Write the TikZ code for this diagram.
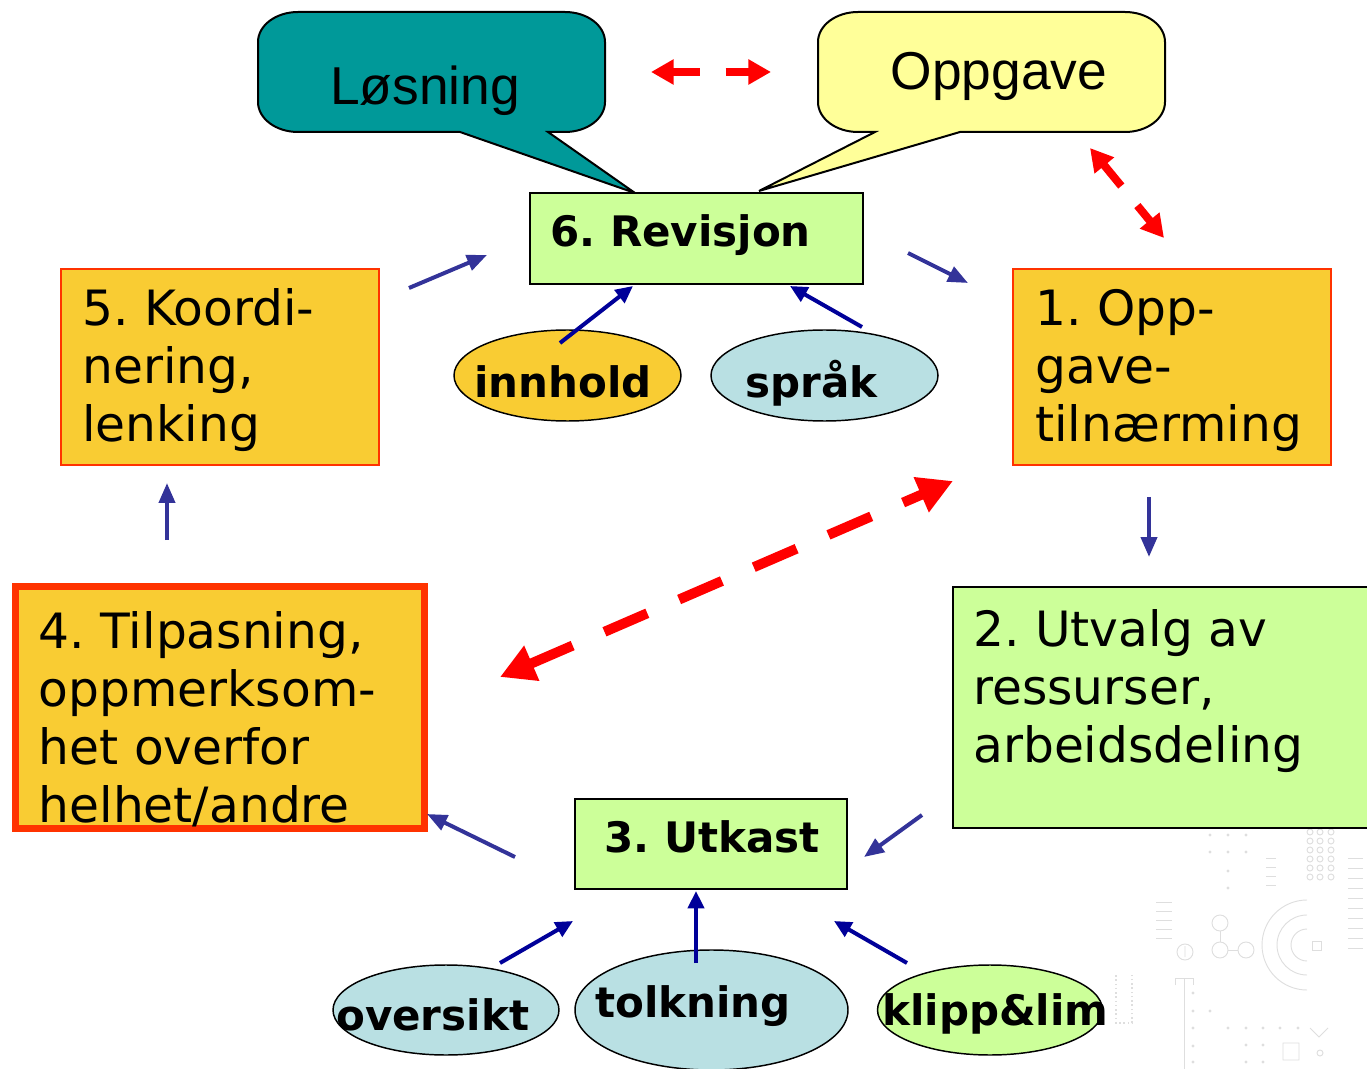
\documentclass[tikz,border=0pt]{standalone}
\usepackage{fontspec}
\setmainfont{DejaVu Sans}
\newfontfamily\bubblefont{Liberation Sans}
\usetikzlibrary{arrows.meta, positioning, shapes.geometric}
\frenchspacing

\definecolor{tealbubble}{HTML}{009999}
\definecolor{yellowbubble}{HTML}{FFFF99}
\definecolor{stepgreen}{HTML}{CCFF99}
\definecolor{stepgold}{HTML}{F9CC33}
\definecolor{stepred}{HTML}{FF3300}
\definecolor{toolcyan}{HTML}{B9E0E3}
\definecolor{flowblue}{HTML}{333399}
\definecolor{feedblue}{HTML}{000099}

\begin{document}
\begin{tikzpicture}[x=0.75pt, y=-0.75pt,
    greenstep/.style={rectangle, draw=black, line width=1.5pt, fill=stepgreen, inner sep=0pt, outer sep=0pt},
    goldstep/.style={rectangle, draw=stepred, line width=1.2pt, fill=stepgold, inner sep=0pt, outer sep=0pt},
    steptxt/.style={anchor=base west, inner sep=0pt, align=left, font=\fontsize{36.5}{43.5}\selectfont},
    tooltxt/.style={inner sep=0pt, font=\bfseries\fontsize{31.5}{37}\selectfont},
    tool/.style={ellipse, draw=black, line width=1.1pt, inner sep=0pt, outer sep=0pt},
    bubble/.style={draw=black, line width=1.5pt},
    bubbletxt/.style={anchor=base, inner sep=0pt, font=\bubblefont\fontsize{40}{48}\selectfont},
    flowarr/.style={flowblue, line width=3pt, -{Triangle[length=15pt, width=12pt]}},
    feedarr/.style={feedblue, line width=3pt, -{Triangle[length=13pt, width=12pt]}},
    linkarr/.style={red, line width=6pt, dash pattern=on 21pt off 19pt,
      {Triangle[length=17pt, width=18pt]}-{Triangle[length=17pt, width=18pt]}},
    bigarr/.style={red, line width=7.5pt, dash pattern=on 35pt off 26pt,
      {Triangle[length=26pt, width=27pt]}-{Triangle[length=26pt, width=27pt]}}]
\useasboundingbox (0,0) rectangle (1367,1069);

% faint template pattern, lower right
\begin{scope}[black!13, line width=0.7pt]
  \foreach \x in {1210,1228,1246}
    \foreach \y in {835,852}
      \fill (\x,\y) circle (1.6);
  \foreach \p in {(1228,871),(1228,888),(1193,993),(1193,1011),(1210,1011),(1193,1028),(1193,1046),(1193,1062),
                  (1228,1028),(1246,1028),(1263,1028),(1280,1028),(1298,1028),(1246,1045),(1263,1045),(1246,1062),(1263,1062)}
    \fill \p circle (1.6);
  \foreach \x in {1310,1320,1331}
    \foreach \y in {832,841,850,859,868,877}
      \draw (\x,\y) circle (3);
  \foreach \y in {902,911,920,929,938}
    \draw (1156,\y) -- (1172,\y);
  \foreach \y in {858,867,876,885}
    \draw (1266,\y) -- (1276,\y);
  \foreach \y in {858,868,...,948}
    \draw (1348,\y) -- (1363,\y);
  \draw (1220,923) circle (8) (1220,950) circle (8) (1246,950) circle (8);
  \draw (1220,931) -- (1220,942) (1228,950) -- (1238,950);
  \draw (1185,952) circle (8) (1185,946) -- (1185,957);
  \draw (1307,900) arc[start angle=270, end angle=90, radius=45];
  \draw (1307,915) arc[start angle=270, end angle=90, radius=30];
  \draw (1307,929) arc[start angle=270, end angle=90, radius=16];
  \draw (1312,941) rectangle (1321,950);
  \draw (1175,985) -- (1175,978) -- (1193,978) -- (1193,985) (1184,978) -- (1184,1069);
  \draw[dotted, line width=1.2pt] (1116,975) -- (1116,1023) -- (1132,1023) -- (1132,975);
  \draw (1283,1043) rectangle (1299,1060) (1320,1053) circle (3);
  \draw (1310,1028) -- (1319,1037) -- (1328,1028);
\end{scope}

% speech bubbles
\coordinate (losb) at (431.5,72);
\coordinate (opgb) at (991.5,72);
\filldraw[bubble, fill=tealbubble] (460,132) -- (635,193) -- (548,132) -- (565,132)
  arc[start angle=90, end angle=0, x radius=40, y radius=30] -- (605,42)
  arc[start angle=0, end angle=-90, x radius=40, y radius=30] -- (298,12)
  arc[start angle=-90, end angle=-180, x radius=40, y radius=30] -- (258,102)
  arc[start angle=180, end angle=90, x radius=40, y radius=30] -- cycle;
\filldraw[bubble, fill=yellowbubble] (960,132) -- (759,191) -- (875,132) -- (858,132)
  arc[start angle=90, end angle=180, x radius=40, y radius=30] -- (818,42)
  arc[start angle=180, end angle=270, x radius=40, y radius=30] -- (1125,12)
  arc[start angle=270, end angle=360, x radius=40, y radius=30] -- (1165,102)
  arc[start angle=0, end angle=90, x radius=40, y radius=30] -- cycle;
\node[bubbletxt] (los) at ([shift={(-6.5,33)}]losb) {Løsning};
\node[bubbletxt] (opg) at ([shift={(7.5,18)}]opgb) {Oppgave};

% steps
\node[goldstep, minimum width=238.5pt, minimum height=147pt] (k5) at (220,367) {};
\node[greenstep, minimum width=249.75pt, minimum height=68.25pt] (rev) at (696,239) {};
\node[goldstep, minimum width=238.5pt, minimum height=147pt] (o1) at (1172,367) {};
\node[greenstep, minimum width=320.25pt, minimum height=180.75pt] (u2) at (1166.5,707.5) {};
\node[greenstep, minimum width=204pt, minimum height=67.5pt] (utk) at (711,844) {};
\node[goldstep, line width=5.25pt, minimum width=306.75pt, minimum height=181.5pt] (t4) at (220,707.5) {};

% multi-line text sits on its last baseline
\node[steptxt] (k5t) at ([shift={(21,173)}]k5.north west) {5. Koordi-\\nering,\\lenking};
\node[steptxt] (o1t) at ([shift={(22,173)}]o1.north west) {1. Opp-\\gave-\\tilnærming};
\node[steptxt] (u2t) at ([shift={(20,175)}]u2.north west) {2. Utvalg av\\ressurser,\\arbeidsdeling};
\node[steptxt] (t4t) at ([shift={(23,235.5)}]t4.north west) {4. Tilpasning,\\oppmerksom-\\het overfor\\helhet/andre};
\node[tooltxt, anchor=base west] (revt) at ([shift={(20.5,53.5)}]rev.north west) {6. Revisjon};
\node[tooltxt, anchor=base west] (utkt) at ([shift={(29,53)}]utk.north west) {3. Utkast};

% tools
\node[tool, fill=stepgold, minimum width=170.25pt, minimum height=68.25pt] (inn) at (567.5,375.5) {};
\node[tool, fill=toolcyan, minimum width=170.25pt, minimum height=68.25pt] (spr) at (824.5,375.5) {};
\node[tool, fill=toolcyan, minimum width=169.5pt, minimum height=67.5pt] (ovs) at (446,1010) {};
\node[tool, fill=toolcyan, minimum width=204.75pt, minimum height=90pt] (tol) at (711.5,1010) {};
\node[tool, fill=stepgreen, minimum width=168.75pt, minimum height=67.5pt] (kli) at (990,1010) {};

\node[tooltxt, anchor=base] (innt) at ([shift={(-4.5,22.5)}]inn.center) {innhold};
\node[tooltxt, anchor=base] (sprt) at ([shift={(-13,22.5)}]spr.center) {språk};
\node[tooltxt, anchor=base west] (ovst) at ([shift={(-110,20)}]ovs.center) {oversikt};
\node[tooltxt, anchor=base west] (tolt) at ([shift={(-116.5,7)}]tol.center) {tolkning};
\node[tooltxt, anchor=base west] (klit) at ([shift={(-108,15)}]kli.center) {klipp\&lim};

% cycle
\draw[flowarr] ([shift={(30,19)}]k5.north east) -- ([shift={(-42.5,16)}]rev.west);
\draw[flowarr] ([shift={(45.5,14)}]rev.east) -- ([shift={(-45,14)}]o1.north west);
\draw[flowarr] ([shift={(-23,32)}]o1.south) -- ([shift={(-17.5,-30)}]u2.north);
\draw[flowarr] ([shift={(-31,-13)}]u2.south west) -- ([shift={(17,13)}]utk.east);
\draw[flowarr] ([shift={(-60,13)}]utk.west) -- ([shift={(2.5,-14.5)}]t4.south east);
\draw[flowarr] ([shift={(-53,-46.5)}]t4.north) -- ([shift={(-53,18)}]k5.south);

% tools feeding the steps
\draw[feedarr] ([shift={(-7.5,-32.5)}]inn.center) -- ([shift={(103.5,1.5)}]rev.south west);
\draw[feedarr] ([shift={(37.5,-48.5)}]spr.center) -- ([shift={(-72.5,1.5)}]rev.south east);
\draw[feedarr] ([shift={(54,-47)}]ovs.center) -- ([shift={(-2,32)}]utk.south west);
\draw[feedarr] ([shift={(-15.5,-47)}]tol.center) -- ([shift={(-15,2)}]utk.south);
\draw[feedarr] ([shift={(-83,-47)}]kli.center) -- ([shift={(-13,32)}]utk.south east);

% red links
\draw[linkarr] ([shift={(219.5,0)}]losb) -- ([shift={(-220.5,0)}]opgb);
\draw[linkarr] ([shift={(98.5,76)}]opgb) -- ([shift={(151,-31)}]o1.north west);
\draw[bigarr] ([shift={(75.5,-30.5)}]t4.east) -- ([shift={(-60,16)}]o1.south west);
\end{tikzpicture}
\end{document}
